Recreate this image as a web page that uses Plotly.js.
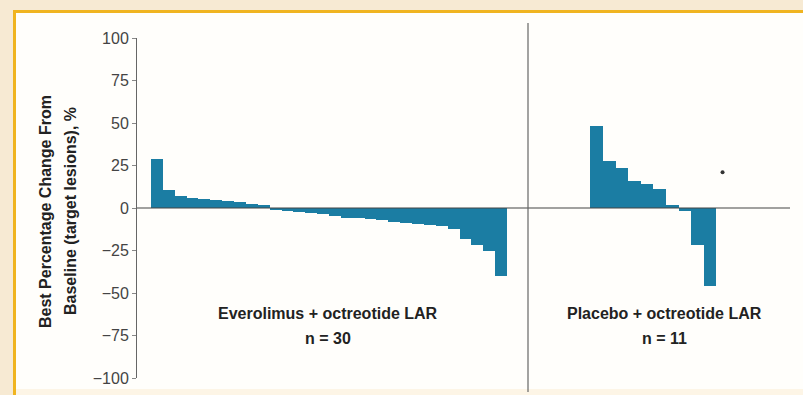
<!DOCTYPE html>
<html>
<head>
<meta charset="utf-8">
<script src="https://cdn.plot.ly/plotly-3.0.1.min.js"></script>
<style>html,body{margin:0;padding:0;background:#f7ead3;}#chart{width:803px;height:395px;}</style>
</head>
<body>
<div id="chart"></div>
<script>
// ---- data ----
const everolimusValues = [29, 10.4, 7, 6, 5.3, 4.7, 3.9, 3.3, 2.5, 1.7,
  -1, -2, -2.5, -3.1, -3.7, -4.5, -5.7, -6, -6.5, -7.3,
  -8, -8.7, -9.6, -10.2, -10.8, -12.2, -18, -22, -25.5, -40];
const placeboValues = [48.4, 27.4, 23.5, 16, 14, 11, 2, -1.6, -21.6, -45.7];
const placeboMarkerPatient = [10];
const placeboMarkerValue = [21];
const yTickValues = [100, 75, 50, 25, 0, -25, -50, -75, -100];
const yTickLabels = ['100', '75', '50', '25', '0', '\u221225', '\u221250', '\u221275', '\u2212100'];
const groupNames = ['Everolimus + octreotide LAR', 'Placebo + octreotide LAR'];
const groupCounts = ['n = 30', 'n = 11'];
const yTitleLines = ['Best Percentage Change From', 'Baseline (target lesions), %'];

// ---- layout helpers ----
const W = 803, H = 395;
const px = v => v / W;
const py = v => (H - v) / H;
const FONT = 'Liberation Sans Narrow, Arial Narrow, Liberation Sans, sans-serif';
const BAR = '#1b7da3';
const TXT = {family: FONT, size: 16, color: '#222', weight: 'bold'};

const traces = [
  {type: 'bar', x: everolimusValues.map((_, i) => i), y: everolimusValues,
   marker: {color: BAR, line: {width: 0}}, xaxis: 'x', yaxis: 'y', hoverinfo: 'y'},
  {type: 'bar', x: placeboValues.map((_, i) => i), y: placeboValues,
   marker: {color: BAR, line: {width: 0}}, xaxis: 'x2', yaxis: 'y2', hoverinfo: 'y'},
  {type: 'scatter', mode: 'markers', x: placeboMarkerPatient, y: placeboMarkerValue,
   marker: {color: '#333', size: 4}, xaxis: 'x2', yaxis: 'y2', hoverinfo: 'y'}
];

const ann = (text, x, y, angle) => ({text, xref: 'paper', yref: 'paper', x: px(x), y: py(y),
  xanchor: 'center', yanchor: 'middle', textangle: angle || 0, showarrow: false, font: TXT});

const yDomain = [py(378), py(38)];
const layout = {
  width: W, height: H,
  margin: {l: 0, r: 0, t: 0, b: 0},
  paper_bgcolor: '#f7ead3',
  plot_bgcolor: 'rgba(0,0,0,0)',
  showlegend: false,
  bargap: 0,
  xaxis: {domain: [px(137), px(528)], range: [-1.68, 31.27], visible: false, fixedrange: true},
  xaxis2: {domain: [px(528), px(790)], range: [-5.46, 15.36], visible: false, fixedrange: true},
  yaxis: {domain: yDomain, range: [-100, 100], anchor: 'x',
    tickvals: yTickValues, ticktext: yTickLabels,
    ticks: 'outside', ticklen: 4, tickcolor: '#888', tickwidth: 1,
    showline: true, linecolor: '#666', linewidth: 1,
    showgrid: false, zeroline: false,
    tickfont: {family: FONT, size: 16, color: '#444'}},
  yaxis2: {domain: yDomain, range: [-100, 100], anchor: 'x2', visible: false, showgrid: false, zeroline: false},
  shapes: [
    {type: 'rect', xref: 'paper', yref: 'paper', x0: px(14.5), x1: 1.02, y0: -0.05, y1: py(11.5),
     fillcolor: '#fffefb', line: {color: '#f0b420', width: 3}, layer: 'below'},
    {type: 'rect', xref: 'paper', yref: 'paper', x0: px(16), x1: 1.02, y0: -0.05, y1: py(389),
     fillcolor: '#fdf5e6', line: {width: 0}, layer: 'below'},
    {type: 'line', xref: 'paper', yref: 'y', x0: px(137), x1: px(790), y0: 0, y1: 0,
     line: {color: '#444', width: 1.2}},
    {type: 'line', xref: 'paper', yref: 'paper', x0: px(528), x1: px(528), y0: py(392), y1: py(23),
     line: {color: '#666', width: 1.2}}
  ],
  annotations: [
    ann(yTitleLines[0], 45.5, 211.5, -90),
    ann(yTitleLines[1], 70.5, 211.5, -90),
    ann(groupNames[0], 328, 313),
    ann(groupCounts[0], 328, 338),
    ann(groupNames[1], 664, 313),
    ann(groupCounts[1], 664, 338)
  ]
};

Plotly.newPlot('chart', traces, layout, {displayModeBar: false, staticPlot: true});
</script>
</body>
</html>
